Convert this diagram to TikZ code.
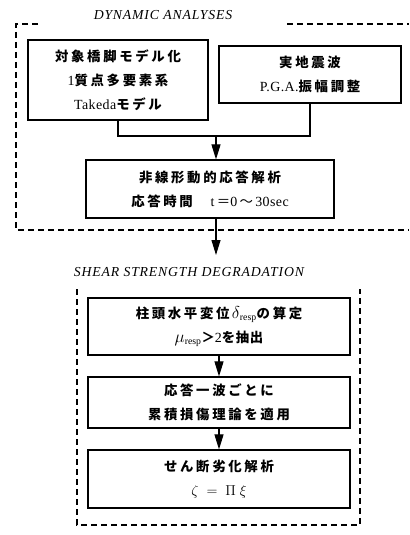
\documentclass[tikz,border=0pt]{standalone}
\usepackage{fontspec}
\setmainfont{Liberation Serif}[LetterSpace=3]
\newfontfamily\jp{Noto Sans CJK JP}[LetterSpace=20,Scale=0.96]
\newfontfamily\ttl{Liberation Serif}[LetterSpace=6]
\usetikzlibrary{arrows.meta}
\newcommand\J[1]{{\jp\bfseries #1}}
\newcommand\Jm[1]{{\jp\mdseries #1}}
\newcommand\BigSym[1]{{\fontsize{17}{24}\selectfont$#1$}}
\begin{document}
\begin{tikzpicture}[x=1bp,y=-1bp,
  box/.style={draw,line width=1.2bp,align=center,inner sep=0pt,
    font=\fontsize{14}{24}\selectfont},
  frame/.style={line width=1.2bp,dash pattern=on 6bp off 4bp},
  arr/.style={line width=1.1bp,-{Triangle[width=9bp,length=15bp]}},
  conn/.style={line width=1.1bp},
  ttlstyle/.style={font=\fontsize{13.8}{14}\selectfont\ttl\itshape}]
\useasboundingbox (0,0) rectangle (409,535);
% frames
\draw[frame] (38,24) -- (16,24) -- (16,230) -- (409,230);
\draw[frame] (287,24) -- (409,24);
\draw[frame] (77,289) -- (77,525) -- (360,525) -- (360,289);
% titles
\node[ttlstyle] (t1) at (163,15) {DYNAMIC ANALYSES};
\node[ttlstyle] (t2) at (189,272) {SHEAR STRENGTH DEGRADATION};
% boxes
\node[box,minimum width=180bp,minimum height=80bp] (b1) at (118,80)
  {\J{対象橋脚モデル化}\\1\J{質点多要素系}\\Takeda\J{モデル}};
\node[box,minimum width=182bp,minimum height=57bp] (b2) at (310,74.5)
  {\J{実地震波}\\P.G.A.\J{振幅調整}};
\node[box,minimum width=248bp,minimum height=58bp] (b3) at (210,189)
  {\J{非線形動的応答解析}\\\J{応答時間}\quad\ t\,\Jm{＝}0\,\Jm{～}\,30sec};
\node[box,minimum width=262bp,minimum height=57bp] (b4) at (219,326.5)
  {\J{柱頭水平変位}\,\BigSym{\delta}$_{\mathrm{resp}}$\J{の算定}\\\BigSym{\mu}$_{\mathrm{resp}}$\J{＞}2{\jp\bfseries\addfontfeature{LetterSpace=5}を抽出}};
\node[box,minimum width=262bp,minimum height=51bp] (b5) at (219,402.5)
  {\J{応答一波ごとに}\\\J{累積損傷理論を適用}};
\node[box,minimum width=262bp,minimum height=58bp] (b6) at (219,479)
  {\J{せん断劣化解析}\\$\zeta\ =\ \Pi\ \xi$};
% connectors
\coordinate (j) at (216,136);
\coordinate (tip) at (216,255);
\draw[conn] (b1.south) -- (b1.south |- j) -- (b2.south |- j) -- (b2.south);
\draw[arr] (j) -- (j |- b3.north);
\draw[arr] (b3.south -| tip) -- (tip);
\draw[arr] (b4.south) -- (b5.north);
\draw[arr] (b5.south) -- (b6.north);
\end{tikzpicture}
\end{document}
